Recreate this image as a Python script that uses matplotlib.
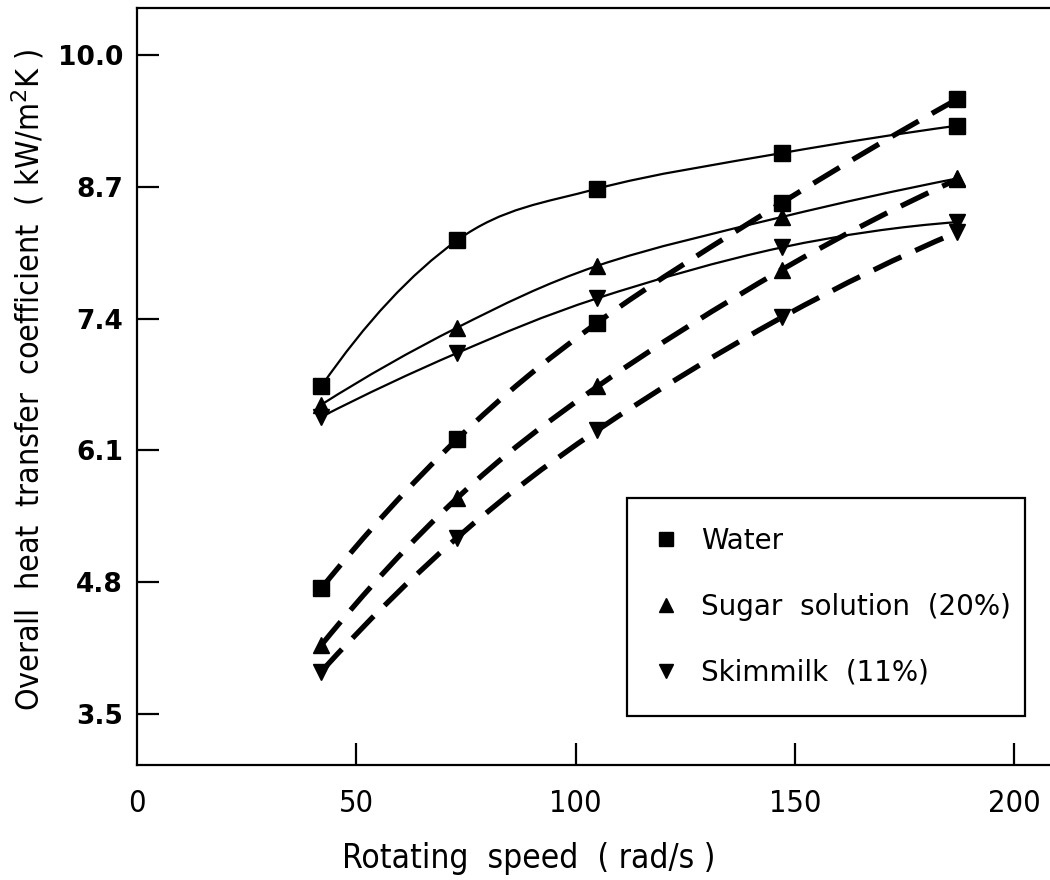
import numpy as np
import matplotlib
matplotlib.use("Agg")
import matplotlib.pyplot as plt
from matplotlib.path import Path
from matplotlib.patches import PathPatch
from matplotlib.lines import Line2D

plt.rcParams["lines.scale_dashes"] = False

# --- data ---
speed = [42, 73, 105, 147, 187]  # rad/s

water_solid = [6.73, 8.17, 8.68, 9.03, 9.30]
water_dashed = [4.74, 6.21, 7.36, 8.54, 9.56]
sugar_solid = [6.55, 7.31, 7.92, 8.40, 8.78]
sugar_dashed = [4.18, 5.63, 6.73, 7.88, 8.77]
skim_solid = [6.43, 7.06, 7.60, 8.10, 8.35]
skim_dashed = [3.92, 5.24, 6.30, 7.41, 8.25]

y_ticks = [3.5, 4.8, 6.1, 7.4, 8.7, 10.0]
x_ticks = [0, 50, 100, 150, 200]

narrow = dict(family="DejaVu Sans", stretch="condensed")
heavy = dict(family="DejaVu Sans", weight="bold")
plain = dict(family="DejaVu Sans")


def smooth_path(x, y):
    """Catmull-Rom curve through the points (quadratic ends), as Bezier segments."""
    p = np.column_stack([x, y]).astype(float)
    m = np.zeros_like(p)
    m[1:-1] = (p[2:] - p[:-2]) / 2.0
    m[0] = 2 * (p[1] - p[0]) - m[1]
    m[-1] = 2 * (p[-1] - p[-2]) - m[-2]
    verts = [tuple(p[0])]
    codes = [Path.MOVETO]
    for i in range(len(p) - 1):
        verts += [tuple(p[i] + m[i] / 3), tuple(p[i + 1] - m[i + 1] / 3), tuple(p[i + 1])]
        codes += [Path.CURVE4] * 3
    return Path(verts, codes)


fig = plt.figure(figsize=(10.5, 8.8), dpi=100)
W, H = 1050, 880
ax = fig.add_axes([137 / W, (H - 765) / H, (W - 137) / W, (765 - 8) / H])

series = [
    (water_solid, "s", "-"),
    (water_dashed, "s", "--"),
    (sugar_solid, "^", "-"),
    (sugar_dashed, "^", "--"),
    (skim_solid, "v", "-"),
    (skim_dashed, "v", "--"),
]

for vals, mk, ls in series:
    if ls == "-":
        patch = PathPatch(smooth_path(speed, vals), fill=False, edgecolor="black",
                          linewidth=1.6, zorder=2)
    else:
        patch = PathPatch(smooth_path(speed, vals), fill=False, edgecolor="black",
                          linewidth=3.8, linestyle=(0, (22, 11)), capstyle="butt",
                          zorder=2)
    ax.add_patch(patch)
    ax.plot(speed, vals, linestyle="none", marker=mk, markersize=12,
            color="black", zorder=3)

ax.set_xlim(0, 208.2)
ax.set_ylim(3.0, 10.46)
ax.set_xticks(x_ticks)
ax.set_yticks(y_ticks)
ax.set_yticklabels([f"{v:.1f}" for v in y_ticks], fontsize=19, **heavy)
ax.set_xticklabels([str(v) for v in x_ticks], fontsize=22, **narrow)

ax.tick_params(axis="both", direction="in", length=16, width=1.6, color="black")
ax.tick_params(axis="y", pad=10)
ax.tick_params(axis="x", pad=17)
xt = ax.xaxis.get_major_ticks()
xt[0].tick1line.set_visible(False)

for side in ["left", "bottom", "top"]:
    ax.spines[side].set_linewidth(1.6)
ax.spines["right"].set_visible(False)

handles = [
    Line2D([], [], linestyle="none", marker="s", markersize=10, color="black"),
    Line2D([], [], linestyle="none", marker="^", markersize=10, color="black"),
    Line2D([], [], linestyle="none", marker="v", markersize=10, color="black"),
]
labels = ["Water", "Sugar  solution  (20%)", "Skimmilk  (11%)"]
leg = ax.legend(handles, labels, loc="lower left",
                bbox_to_anchor=(0.537, 0.065, 0.436, 0.29), mode="expand",
                prop=dict(size=20, **plain), frameon=True, fancybox=False,
                edgecolor="black", framealpha=1, borderpad=1.05, labelspacing=1.36,
                handlelength=0.7, handletextpad=0.9, borderaxespad=0)
leg.get_frame().set_linewidth(1.6)

fig.text(529 / W, 1 - 858 / H, "Rotating  speed  ( rad/s )", fontsize=24,
         ha="center", va="center", **narrow)
fig.text(28 / W, 1 - 380 / H, "Overall  heat  transfer  coefficient  ( kW/m$^2$K )",
         fontsize=23, ha="center", va="center", rotation=90, **narrow)

fig.savefig("out.png", dpi=100)
